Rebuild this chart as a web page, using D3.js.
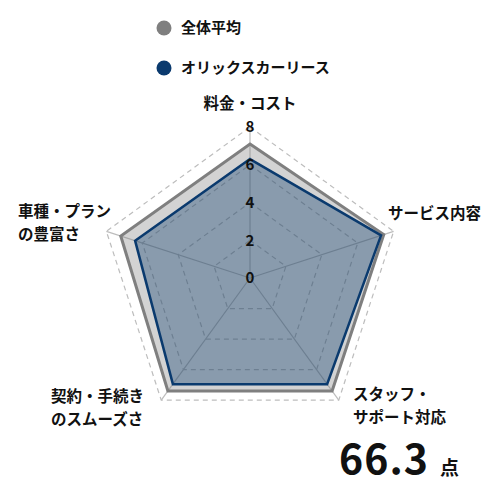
<!DOCTYPE html>
<html>
<head>
<meta charset="utf-8">
<script src="https://cdn.jsdelivr.net/npm/d3@7"></script>
<style>
  body { margin: 0; background: #fff; }
  text { font-family: "Noto Sans CJK JP", "Noto Sans", sans-serif; fill: #111; }
</style>
</head>
<body>
<div class="panel"></div>
<script>
const axes = ["料金・コスト", "サービス内容", "スタッフ・サポート対応", "契約・手続きのスムーズさ", "車種・プランの豊富さ"];
const axisLines = [["料金・コスト"], ["サービス内容"], ["スタッフ・", "サポート対応"], ["契約・手続き", "のスムーズさ"], ["車種・プラン", "の豊富さ"]];
const averageValues = [7.1, 7.45, 7.4, 7.4, 7.2];
const orixValues = [6.3, 7.3, 6.95, 6.95, 6.4];
const ticks = [0, 2, 4, 6, 8];
const seriesNames = ["全体平均", "オリックスカーリース"];
const totalScore = "66.3";

const width = 500;
const height = 500;
const cx = 250, cy = 278;

const svg = d3.select(".panel")
    .append("svg")
    .attr("width", width)
    .attr("height", height)
    .attr("viewBox", `0 0 ${width} ${height}`);

const r = d3.scaleLinear().domain([0, 8]).range([0, 151]);
const angle = d3.scalePoint().domain(d3.range(axes.length + 1)).range([0, 2 * Math.PI]);

const g = svg.append("g").attr("transform", `translate(${cx},${cy})`);

const radial = d3.lineRadial()
    .angle((d, i) => angle(i))
    .radius(d => r(d))
    .curve(d3.curveLinearClosed);

// grid rings
g.selectAll(".ring")
  .data(ticks.filter(t => t > 0))
  .enter()
  .append("path")
  .attr("class", "ring")
  .attr("d", t => radial(axes.map(() => t)))
  .attr("fill", "none")
  .attr("stroke", "#bdbdbd")
  .attr("stroke-width", 1.2)
  .attr("stroke-dasharray", "5,4");

// spokes
g.selectAll(".spoke")
  .data(axes)
  .enter()
  .append("line")
  .attr("class", "spoke")
  .attr("x1", 0).attr("y1", 0)
  .attr("x2", (d, i) => r(8) * Math.sin(angle(i)))
  .attr("y2", (d, i) => -r(8) * Math.cos(angle(i)))
  .attr("stroke", "#bdbdbd")
  .attr("stroke-width", 1.2);

// series
g.append("path")
  .attr("d", radial(averageValues))
  .attr("fill", "rgba(128,128,128,0.35)")
  .attr("stroke", "#7f7f7f")
  .attr("stroke-width", 3)
  .attr("stroke-linejoin", "miter");

g.append("path")
  .attr("d", radial(orixValues))
  .attr("fill", "rgba(0,51,102,0.35)")
  .attr("stroke", "#0a3a6e")
  .attr("stroke-width", 2.5)
  .attr("stroke-linejoin", "miter");

// tick labels
g.selectAll(".tick")
  .data(ticks)
  .enter()
  .append("text")
  .attr("class", "tick")
  .attr("x", 0)
  .attr("y", t => -r(t))
  .attr("dy", "0.36em")
  .attr("text-anchor", "middle")
  .attr("font-size", 15)
  .attr("font-weight", 700)
  .text(t => t);

// axis labels
const labelPos = [
  { x: 0, y: -174, anchor: "middle" },
  { x: 138, y: -64, anchor: "start" },
  { x: 103, y: 117, anchor: "start" },
  { x: -199, y: 119, anchor: "start" },
  { x: -232, y: -66, anchor: "start" }
];

const labels = g.selectAll(".axis-label")
  .data(axisLines)
  .enter()
  .append("text")
  .attr("class", "axis-label")
  .attr("x", (d, i) => labelPos[i].x)
  .attr("y", (d, i) => labelPos[i].y)
  .attr("text-anchor", (d, i) => labelPos[i].anchor)
  .attr("font-size", 15.5)
  .attr("font-weight", 700);

labels.selectAll("tspan")
  .data((d, i) => d.map(line => ({ line, i })))
  .enter()
  .append("tspan")
  .attr("x", d => labelPos[d.i].x)
  .attr("dy", (d, j) => j === 0 ? "0.35em" : 23)
  .text(d => d.line);

// legend
const legendColors = ["#7f7f7f", "#0a3a6e"];
const legend = svg.selectAll(".legend")
  .data(seriesNames)
  .enter()
  .append("g")
  .attr("class", "legend")
  .attr("transform", (d, i) => `translate(164, ${28 + i * 40})`);

legend.append("circle")
  .attr("r", 7.5)
  .attr("fill", (d, i) => legendColors[i]);

legend.append("text")
  .attr("x", 17)
  .attr("dy", "0.35em")
  .attr("font-size", 15)
  .attr("font-weight", 700)
  .text(d => d);

// score
svg.append("text")
  .attr("x", 339)
  .attr("y", 474)
  .attr("font-size", 41)
  .attr("font-weight", 700)
  .attr("letter-spacing", 1)
  .text(totalScore);

svg.append("text")
  .attr("x", 440)
  .attr("y", 475)
  .attr("font-size", 19)
  .attr("font-weight", 700)
  .text("点");
</script>
</body>
</html>
